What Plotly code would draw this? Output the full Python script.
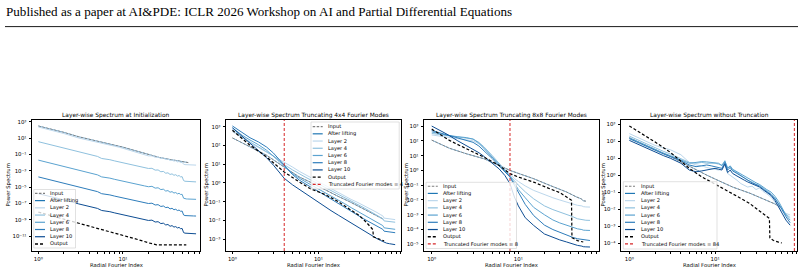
import plotly.graph_objects as go

# ---------------------------------------------------------------------------
# Data: log10(power spectrum) values, per panel / series
# ---------------------------------------------------------------------------
series_names = ["Input", "After lifting", "Layer 2", "Layer 4", "Layer 6", "Layer 8", "Layer 10", "Output"]
panel_titles = ["Layer-wise Spectrum at Initialization",
                "Layer-wise Spectrum Truncating 4x4 Fourier Modes",
                "Layer-wise Spectrum Truncating 8x8 Fourier Modes",
                "Layer-wise Spectrum without Truncation"]
trunc_modes = [None, 4, 8, 84]
x_label = "Radial Fourier Index"
y_label = "Power Spectrum"

# ---- Panel 1 (initialization)
p1_k_in = [1, 1.5, 2, 3, 4, 5, 7, 10, 14, 20, 27, 35, 45, 59]
p1_input = [2.47, 2.05, 1.69, 1.15, 0.85, 0.6, 0.28, -0.12, -0.55, -1.05, -1.38, -1.6, -1.8, -2.0]
p1_after = [2.47, 2.05, 1.69, 1.15, 0.85, 0.6, 0.28, -0.12, -0.55, -1.05, -1.38, -1.6, -1.8, -2.0]
p1_k_out = [1, 2, 3, 5, 7, 10, 15, 20, 25, 30, 40, 50, 56]
p1_output = [-8.05, -8.9, -9.4, -10.0, -10.45, -10.9, -11.4, -11.8, -12.05, -12.05, -12.05, -12.05, -12.05]
p1_k_lay = [1, 1.5, 2, 3, 4, 5, 5.6, 6.3, 7, 8, 9, 10, 12, 14, 16, 18, 20, 22, 24, 26, 28, 30,
            32, 34, 36, 38, 40, 42, 44, 46, 48, 50, 52, 54, 56, 58, 61, 64, 68, 73]
p1_layer2 = [2.35, 1.9, 1.55, 1.0, 0.7, 0.45, 0.28, 0.22, 0.12, 0.0, -0.12, -0.25, -0.5, -0.72, -0.92, -1.05,
             -1.18, -1.18, -1.35, -1.33, -1.5, -1.46, -1.62, -1.58, -1.74, -1.68, -1.82, -1.77, -1.92, -1.86,
             -2.0, -1.97, -2.2, -2.25, -2.26, -2.27, -2.28, -2.29, -2.3, -2.31]
p1_layer4 = [0.55, 0.12, -0.2, -0.7, -1.0, -1.25, -1.5, -1.55, -1.65, -1.8, -1.93, -2.03, -2.2, -2.38, -2.5,
             -2.62, -2.72, -2.7, -2.92, -2.9, -3.12, -3.08, -3.3, -3.25, -3.45, -3.38, -3.55, -3.48, -3.65,
             -3.58, -3.75, -3.72, -4.2, -4.28, -4.3, -4.3, -4.32, -4.33, -4.35, -4.36]
p1_layer6 = [-1.70, -2.13, -2.45, -2.95, -3.25, -3.5, -3.75, -3.8, -3.9, -4.05, -4.18, -4.28, -4.42, -4.6,
             -4.72, -4.85, -4.95, -4.9, -5.12, -5.08, -5.3, -5.25, -5.48, -5.42, -5.62, -5.55, -5.72, -5.66,
             -5.82, -5.75, -5.9, -5.88, -6.35, -6.42, -6.44, -6.45, -6.46, -6.47, -6.48, -6.49]
p1_layer8 = [-3.75, -4.18, -4.5, -5.0, -5.3, -5.55, -5.8, -5.85, -5.95, -6.1, -6.22, -6.32, -6.48, -6.65,
             -6.78, -6.9, -7.0, -6.96, -7.18, -7.14, -7.36, -7.3, -7.5, -7.45, -7.66, -7.58, -7.76, -7.7,
             -7.86, -7.8, -7.95, -7.92, -8.4, -8.47, -8.49, -8.5, -8.51, -8.52, -8.52, -8.53]
p1_layer10 = [-5.8, -6.22, -6.55, -7.05, -7.35, -7.6, -7.85, -7.9, -8.0, -8.15, -8.28, -8.38, -8.55, -8.72,
              -8.85, -8.97, -9.07, -9.03, -9.26, -9.22, -9.45, -9.4, -9.62, -9.56, -9.78, -9.7, -9.88, -9.82,
              -9.98, -9.92, -10.08, -10.05, -10.55, -10.62, -10.64, -10.66, -10.67, -10.68, -10.69, -10.7]

# ---- Panel 2 (truncating 4x4)
p2_k_in = [1, 1.6, 2.5, 4, 6, 8, 12, 17, 23, 30, 40, 50, 57]
p2_input = [2.41, 1.93, 1.48, 0.85, 0.32, 0.05, -0.38, -0.72, -1.0, -1.28, -1.56, -1.8, -1.94]
p2_after = [2.41, 1.93, 1.48, 0.85, 0.32, 0.05, -0.38, -0.72, -1.0, -1.28, -1.56, -1.8, -1.94]
p2_k_out = [1, 1.6, 2.5, 4, 6, 8, 12, 17, 23, 30, 36, 43, 43.5, 50, 58]
p2_output = [2.82, 2.02, 1.39, 0.59, 0.05, -0.3, -0.62, -1.0, -1.4, -1.75, -2.1, -2.5, -2.88, -3.0, -3.1]
p2_k_lay = [1, 1.3, 1.6, 2, 2.5, 3, 3.5, 4, 5, 6, 7, 8, 10, 12, 14, 17, 20, 24, 28, 33, 38, 43, 48, 53,
            56, 58, 62, 67, 72, 78]
p2_layer2 = [2.75, 2.4, 2.15, 1.9, 1.65, 1.45, 1.28, 1.13, 0.85, 0.62, 0.45, 0.3, 0.05, -0.15, -0.32, -0.52,
             -0.7, -0.88, -1.02, -1.18, -1.32, -1.45, -1.58, -1.7, -1.76, -1.88, -1.9, -1.92, -1.94, -1.96]
p2_layer4 = [2.85, 2.45, 2.2, 1.95, 1.68, 1.45, 1.2, 0.98, 0.7, 0.48, 0.32, 0.18, -0.06, -0.25, -0.42, -0.62,
             -0.8, -0.98, -1.13, -1.3, -1.45, -1.6, -1.73, -1.85, -1.92, -2.03, -2.05, -2.06, -2.08, -2.1]
p2_layer6 = [2.95, 2.55, 2.3, 2.05, 1.75, 1.45, 1.15, 0.88, 0.5, 0.25, 0.08, -0.07, -0.3, -0.52, -0.7, -0.92,
             -1.1, -1.32, -1.5, -1.7, -1.86, -2.0, -2.12, -2.22, -2.28, -2.4, -2.42, -2.44, -2.46, -2.48]
p2_layer8 = [3.05, 2.68, 2.42, 2.2, 1.92, 1.6, 1.25, 0.92, 0.45, 0.15, -0.05, -0.2, -0.45, -0.68, -0.87, -1.1,
             -1.3, -1.52, -1.7, -1.9, -2.06, -2.2, -2.32, -2.42, -2.48, -2.58, -2.6, -2.62, -2.64, -2.66]
p2_layer10 = [2.95, 2.5, 2.12, 1.75, 1.35, 0.95, 0.6, 0.25, -0.1, -0.35, -0.55, -0.72, -1.05, -1.3, -1.48,
              -1.72, -1.92, -2.15, -2.35, -2.55, -2.72, -2.86, -2.98, -3.08, -3.13, -3.2, -3.22, -3.25, -3.27, -3.3]

# ---- Panel 3 (truncating 8x8)
p3_k_in = [1, 1.6, 2.5, 4, 6, 8, 10, 15, 23, 36, 47, 53, 56, 60]
p3_input = [2.05, 1.5, 1.13, 0.79, 0.34, 0.0, -0.2, -0.56, -1.01, -1.46, -1.8, -1.92, -2.05, -2.08]
p3_after = [2.05, 1.5, 1.13, 0.79, 0.34, 0.0, -0.2, -0.56, -1.01, -1.46, -1.8, -1.92, -2.05, -2.08]
p3_k_out = [1, 1.6, 2.5, 4, 6, 8, 10, 15, 23, 30, 36, 41, 41.5, 48, 56]
p3_output = [2.8, 2.03, 1.47, 0.9, 0.34, -0.22, -0.45, -0.79, -1.24, -1.5, -1.8, -2.02, -4.55, -4.75, -4.84]
p3_k_lay = [1, 1.5, 2, 2.5, 3, 3.5, 4, 5, 6, 7, 8, 9, 10, 12, 15, 20, 25, 30, 36, 42, 48, 54, 56, 60, 67]
p3_layer2 = [2.4, 2.25, 2.15, 2.08, 2.0, 1.8, 1.5, 0.95, 0.45, 0.05, -0.3, -0.55, -0.75, -1.05, -1.35, -1.65,
             -1.85, -2.0, -2.14, -2.26, -2.36, -2.4, -2.45, -2.47, -2.48]
p3_layer4 = [2.5, 2.35, 2.25, 2.2, 2.12, 1.9, 1.6, 1.0, 0.45, 0.0, -0.35, -0.7, -1.0, -1.45, -1.92, -2.4,
             -2.65, -2.8, -2.95, -3.12, -3.27, -3.32, -3.36, -3.37, -3.38]
p3_layer6 = [2.6, 2.38, 2.28, 2.22, 2.12, 1.85, 1.5, 0.9, 0.35, -0.05, -0.4, -0.85, -1.3, -1.85, -2.5, -3.0,
             -3.35, -3.55, -3.71, -3.85, -3.95, -4.0, -4.04, -4.05, -4.06]
p3_layer8 = [2.7, 2.4, 2.2, 2.05, 1.9, 1.65, 1.35, 0.8, 0.3, -0.1, -0.45, -1.0, -1.5, -2.3, -3.05, -3.7,
             -4.0, -4.2, -4.39, -4.52, -4.62, -4.66, -4.72, -4.73, -4.74]
p3_layer10 = [3.0, 2.45, 2.0, 1.7, 1.45, 1.2, 0.95, 0.45, 0.1, -0.35, -0.9, -1.8, -2.4, -3.2, -3.72, -4.3,
              -4.55, -4.7, -4.84, -4.97, -5.07, -5.12, -5.16, -5.17, -5.18]

# ---- Panel 4 (no truncation)
p4_k_in = [1, 1.5, 2, 3, 4.3, 6, 8, 10.5, 16, 25.6, 35, 43.6, 50, 57]
p4_input = [2.2, 1.8, 1.5, 1.1, 0.7, 0.3, 0.0, -0.28, -0.7, -1.07, -1.35, -1.56, -1.7, -1.86]
p4_after = [2.2, 1.8, 1.5, 1.1, 0.7, 0.3, 0.0, -0.28, -0.7, -1.07, -1.35, -1.56, -1.7, -1.86]
p4_k_out = [1, 1.5, 2, 3, 4, 5, 7, 10, 16, 25, 35, 43, 43.5, 48, 55, 60]
p4_output = [2.9, 2.35, 1.95, 1.35, 0.8, 0.4, -0.1, -0.55, -1.1, -1.65, -2.2, -2.55, -3.7, -3.85, -3.95, -4.0]
p4_k_lay = [1, 1.5, 2, 2.5, 3, 4, 5, 6, 7, 8, 9, 10, 11, 12, 13, 14, 15, 16, 18, 20, 22, 24, 27, 30, 33,
            36, 40, 45, 50, 55, 60, 67, 75]
p4_layer2 = [2.45, 2.05, 1.75, 1.6, 1.5, 1.2, 0.75, 0.6, 0.55, 0.45, 0.4, 0.35, 0.3, 0.35, 0.7, 0.1, 0.0,
             -0.1, -0.3, -0.5, -0.6, -0.7, -0.65, -0.85, -0.75, -0.95, -1.1, -1.3, -1.6, -1.9, -2.1, -2.25, -2.35]
p4_layer4 = [2.3, 1.9, 1.6, 1.4, 1.25, 0.95, 0.75, 0.7, 0.75, 0.7, 0.72, 0.7, 0.65, 0.6, 0.8, 0.45, 0.5,
             0.3, 0.15, 0.0, -0.15, -0.3, -0.4, -0.55, -0.6, -0.75, -0.95, -1.1, -1.35, -1.7, -2.0, -2.3, -2.5]
p4_layer6 = [2.2, 1.8, 1.5, 1.3, 1.15, 0.9, 0.7, 0.75, 0.8, 0.78, 0.75, 0.72, 0.7, 0.55, 0.85, 0.4, 0.55,
             0.35, 0.2, 0.05, -0.1, -0.2, -0.35, -0.45, -0.55, -0.7, -0.85, -1.0, -1.25, -1.55, -1.9, -2.35, -2.65]
p4_layer8 = [2.15, 1.75, 1.45, 1.25, 1.1, 0.85, 0.6, 0.5, 0.55, 0.6, 0.55, 0.5, 0.45, 0.4, 0.75, 0.3, 0.45,
             0.25, 0.1, -0.05, -0.2, -0.3, -0.45, -0.55, -0.65, -0.8, -0.95, -1.15, -1.4, -1.7, -2.0, -2.45, -2.8]
p4_layer10 = [2.05, 1.65, 1.35, 1.15, 1.0, 0.7, 0.3, 0.2, 0.25, 0.3, 0.35, 0.4, 0.35, 0.3, 0.65, 0.15, 0.3,
              0.1, -0.05, -0.2, -0.3, -0.4, -0.5, -0.6, -0.7, -0.85, -1.0, -1.2, -1.5, -1.85, -2.2, -2.65, -2.95]

# y tick exponents per panel
p1_y_exps = [3, 1, -1, -3, -5, -7, -9, -11]
p2_y_exps = [3, 2, 1, 0, -1, -2, -3]
p3_y_exps = [3, 2, 1, 0, -1, -2, -3, -4, -5]
p4_y_exps = [3, 2, 1, 0, -1, -2, -3, -4]
x_exps = [0, 1]

# ---------------------------------------------------------------------------
# Styling / layout
# ---------------------------------------------------------------------------
W, H = 804, 272
FONT = "DejaVu Sans"
TICK = 5.4

STYLE = {
    "Input": dict(color="#7f7f7f", width=0.9, dash="2.5px,1.5px"),
    "After lifting": dict(color="#1f77b4", width=1.0, dash="solid"),
    "Layer 2": dict(color="#bcd7ec", width=1.0, dash="solid"),
    "Layer 4": dict(color="#8fc1de", width=1.0, dash="solid"),
    "Layer 6": dict(color="#5ba3d0", width=1.0, dash="solid"),
    "Layer 8": dict(color="#2e7dbb", width=1.0, dash="solid"),
    "Layer 10": dict(color="#0d4d93", width=1.0, dash="solid"),
    "Output": dict(color="black", width=1.2, dash="3px,2px"),
}
TRUNC_STYLE = dict(color="#d62728", width=1.0, dash="3px,2px")

SUPER = {"0": "\u2070", "1": "\u00b9", "2": "\u00b2", "3": "\u00b3", "4": "\u2074", "5": "\u2075",
         "6": "\u2076", "7": "\u2077", "8": "\u2078", "9": "\u2079", "-": "\u207b"}


def unlog(vals):
    return [10 ** v for v in vals]


def sup(e):
    return "10" + "".join(SUPER[c] for c in str(e))


panels = [
    dict(box=(32, 120, 200, 251), xr=[-0.075, 1.91], yr=[-12.8, 3.2], yexps=p1_y_exps,
         k_in=p1_k_in, inp=p1_input, after=p1_after, k_out=p1_k_out, out=p1_output,
         k_lay=p1_k_lay, layers=[p1_layer2, p1_layer4, p1_layer6, p1_layer8, p1_layer10],
         ylab_x=8, leg_box=(33.8, 189.5, 75.5, 248.0), leg_y0=193.4, leg_sw=(35.0, 45.0), leg_tx=47.6),
    dict(box=(226, 120, 401, 251), xr=[-0.075, 1.96], yr=[-3.64, 3.37], yexps=p2_y_exps,
         k_in=p2_k_in, inp=p2_input, after=p2_after, k_out=p2_k_out, out=p2_output,
         k_lay=p2_k_lay, layers=[p2_layer2, p2_layer4, p2_layer6, p2_layer8, p2_layer10],
         ylab_x=206, leg_box=(311.0, 122.0, 399.2, 189.0), leg_y0=126.6, leg_sw=(312.7, 322.7), leg_tx=325.6),
    dict(box=(424, 120, 599, 251), xr=[-0.089, 1.93], yr=[-5.45, 3.41], yexps=p3_y_exps,
         k_in=p3_k_in, inp=p3_input, after=p3_after, k_out=p3_k_out, out=p3_output,
         k_lay=p3_k_lay, layers=[p3_layer2, p3_layer4, p3_layer6, p3_layer8, p3_layer10],
         ylab_x=406, leg_box=(426.0, 182.3, 516.5, 248.5), leg_y0=186.2, leg_sw=(427.8, 437.8), leg_tx=441.0),
    dict(box=(621, 120, 797, 251), xr=[-0.097, 1.955], yr=[-4.47, 3.25], yexps=p4_y_exps,
         k_in=p4_k_in, inp=p4_input, after=p4_after, k_out=p4_k_out, out=p4_output,
         k_lay=p4_k_lay, layers=[p4_layer2, p4_layer4, p4_layer6, p4_layer8, p4_layer10],
         ylab_x=603, leg_box=(623.3, 181.7, 717.0, 249.0), leg_y0=186.2, leg_sw=(625.0, 635.0), leg_tx=639.0),
]


def px(x):
    return x / W


def py(y):
    return 1 - y / H


fig = go.Figure()
shapes = []
annotations = []
layout_axes = {}

minor_x = [2, 3, 4, 5, 6, 7, 8, 9, 20, 30, 40, 50, 60, 70, 80, 90]

for i, P in enumerate(panels):
    n = i + 1
    xa = "x" if n == 1 else "x%d" % n
    ya = "y" if n == 1 else "y%d" % n
    x0, y0, x1, y1 = P["box"]

    common = dict(type="log", showline=True, linecolor="black", linewidth=0.8, mirror=True,
                  ticks="outside", ticklen=2.5, tickwidth=0.6, tickcolor="black",
                  showgrid=False, zeroline=False,
                  tickfont=dict(family=FONT, size=TICK, color="black"))
    layout_axes["xaxis" if n == 1 else "xaxis%d" % n] = dict(
        common, domain=[px(x0), px(x1)], range=P["xr"], anchor=ya, ticklabelstandoff=0,
        tickmode="array", tickvals=[10 ** e for e in x_exps], ticktext=[sup(e) for e in x_exps],
        minor=dict(tickmode="array", tickvals=minor_x, ticks="outside", ticklen=1.6,
                   tickwidth=0.5, tickcolor="black", showgrid=False))
    layout_axes["yaxis" if n == 1 else "yaxis%d" % n] = dict(
        common, domain=[py(y1), py(y0)], range=P["yr"], anchor=xa, ticklabelstandoff=1,
        tickmode="array", tickvals=[10 ** e for e in P["yexps"]], ticktext=[sup(e) for e in P["yexps"]])

    # traces (drawing order: after lifting, input, layers, output)
    def add(k, vals, name, opacity=1.0):
        st = STYLE[name]
        fig.add_trace(go.Scatter(x=k, y=unlog(vals), mode="lines", name=name, showlegend=False,
                                 opacity=opacity, xaxis=xa, yaxis=ya,
                                 line=dict(color=st["color"], width=st["width"], dash=st["dash"])))

    add(P["k_in"], P["after"], "After lifting", opacity=0.55)
    add(P["k_in"], P["inp"], "Input")
    for name, vals in zip(series_names[2:7], P["layers"]):
        add(P["k_lay"], vals, name)
    add(P["k_out"], P["out"], "Output")

    # truncation marker
    if trunc_modes[i] is not None:
        shapes.append(dict(type="line", xref=xa, yref=ya + " domain", x0=trunc_modes[i], x1=trunc_modes[i],
                           y0=0, y1=1, line=dict(color=TRUNC_STYLE["color"], width=TRUNC_STYLE["width"],
                                                 dash=TRUNC_STYLE["dash"]), layer="above"))

    # titles / axis labels
    cx = (x0 + x1) / 2
    annotations.append(dict(text=panel_titles[i], x=px(cx), y=py(115.8), xref="paper", yref="paper",
                            xanchor="center", yanchor="middle", showarrow=False,
                            font=dict(family=FONT, size=5.9, color="black")))
    annotations.append(dict(text=x_label, x=px(cx), y=py(264.6), xref="paper", yref="paper",
                            xanchor="center", yanchor="middle", showarrow=False,
                            font=dict(family=FONT, size=5.3, color="black")))
    annotations.append(dict(text=y_label, x=px(P["ylab_x"]), y=py((y0 + y1) / 2), xref="paper", yref="paper",
                            xanchor="center", yanchor="middle", showarrow=False, textangle=-90,
                            font=dict(family=FONT, size=5.3, color="black")))

    # compact matplotlib-like legend
    bx0, by0, bx1, by1 = P["leg_box"]
    shapes.append(dict(type="rect", xref="paper", yref="paper", x0=px(bx0), x1=px(bx1), y0=py(by1), y1=py(by0),
                       fillcolor="rgba(255,255,255,0.8)", line=dict(color="#cccccc", width=0.6), layer="above"))
    entries = [(nm, STYLE[nm]) for nm in series_names]
    if trunc_modes[i] is not None:
        entries.append(("Truncated Fourier modes = %d" % trunc_modes[i], TRUNC_STYLE))
    for j, (nm, st) in enumerate(entries):
        yy = P["leg_y0"] + j * 7.22
        shapes.append(dict(type="line", xref="paper", yref="paper", x0=px(P["leg_sw"][0]), x1=px(P["leg_sw"][1]),
                           y0=py(yy), y1=py(yy), line=dict(color=st["color"], width=st["width"] + 0.2,
                                                           dash=st["dash"]), layer="above"))
        annotations.append(dict(text=nm, x=px(P["leg_tx"]), y=py(yy), xref="paper", yref="paper",
                                xanchor="left", yanchor="middle", showarrow=False,
                                font=dict(family=FONT, size=5.1, color="black")))

# page header
annotations.append(dict(text="Published as a paper at AI&amp;PDE: ICLR 2026 Workshop on AI and Partial Differential Equations",
                        x=px(3.5), y=py(11.8), xref="paper", yref="paper", xanchor="left", yanchor="middle",
                        showarrow=False, font=dict(family="Liberation Serif", size=13.1, color="black")))
shapes.append(dict(type="line", xref="paper", yref="paper", x0=px(5), x1=px(798), y0=py(26.6), y1=py(26.6),
                   line=dict(color="black", width=0.9)))

fig.update_layout(width=W, height=H, margin=dict(l=0, r=0, t=0, b=0), paper_bgcolor="white",
                  plot_bgcolor="white", showlegend=False, shapes=shapes, annotations=annotations,
                  **layout_axes)

fig.write_html("out.html")
